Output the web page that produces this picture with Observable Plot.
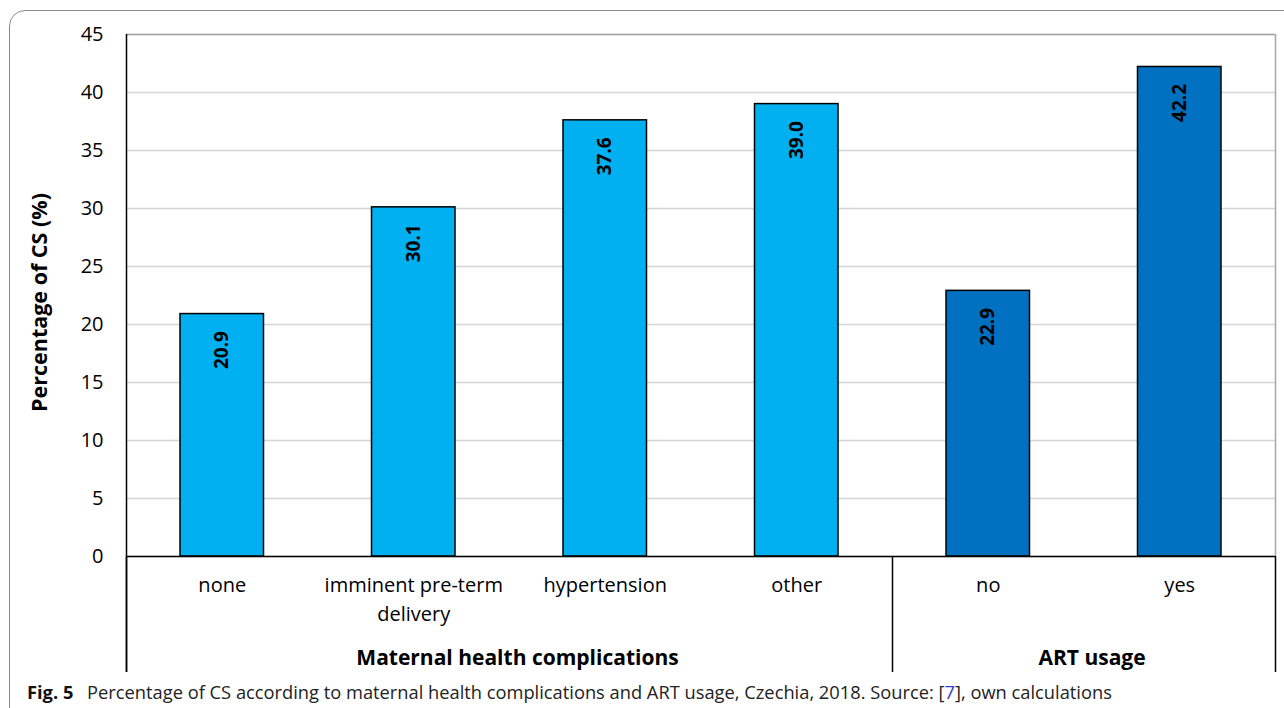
<!DOCTYPE html>
<html>
<head>
<meta charset="utf-8">
<script src="https://cdn.jsdelivr.net/npm/d3@7"></script>
<script src="https://cdn.jsdelivr.net/npm/@observablehq/plot@0.6"></script>
<style>
  html, body { margin: 0; padding: 0; background: #fff; overflow: hidden; }
  #wrap { position: relative; width: 1284px; height: 708px; }
  #box { position: absolute; left: 9px; top: 10px; width: 1320px; height: 760px;
         border: 1.5px solid #8a8a8a; border-radius: 16px; box-sizing: border-box; }
  #chart { position: absolute; left: 0; top: 0; }
  #caption { position: absolute; left: 27px; top: 679px; font-family: "Open Sans", sans-serif;
             font-size: 18.3px; color: #222; white-space: nowrap; }
  #caption b { font-weight: 700; color: #111; margin-right: 9px; }
  #caption .ref { color: #3a3ad0; }
</style>
</head>
<body>
<div id="wrap">
  <div id="box"></div>
  <div id="chart"></div>
  <div id="caption"><b>Fig. 5</b> Percentage of CS according to maternal health complications and ART usage, Czechia, 2018. Source: [<span class="ref">7</span>], own calculations</div>
</div>
<script>
const categories = ["none", "imminent pre-term\ndelivery", "hypertension", "other", "no", "yes"];
const values = [20.9, 30.1, 37.6, 39.0, 22.9, 42.2];
const groups = ["Maternal health complications", "Maternal health complications", "Maternal health complications", "Maternal health complications", "ART usage", "ART usage"];
const groupNames = ["Maternal health complications", "ART usage"];
const yTicks = [0, 5, 10, 15, 20, 25, 30, 35, 40, 45];
const yLabel = "Percentage of CS (%)";

const palette = {"Maternal health complications": "#00B0F0", "ART usage": "#0070C0"};

const rows = categories.map((c, i) => ({i, category: c, value: values[i], group: groups[i]}));
const spans = groupNames.map(g => {
  const idx = rows.filter(r => r.group === g).map(r => r.i);
  return {group: g, start: d3.min(idx), end: d3.max(idx) + 1};
});
const boundaries = Array.from(new Set(spans.flatMap(s => [s.start, s.end])));
const yMax = d3.max(yTicks);
const below = -10;

const chart = Plot.plot({
  width: 1284,
  height: 680,
  marginLeft: 126,
  marginRight: 9,
  marginTop: 34,
  marginBottom: 124,
  style: {fontFamily: "'Open Sans', sans-serif", fontSize: "20px", color: "#000", background: "transparent"},
  x: {type: "linear", domain: [0, categories.length], axis: null},
  y: {domain: [0, yMax], nice: false, axis: null},
  marks: [
    Plot.gridY(yTicks, {stroke: "#d4d4d4", strokeOpacity: 1, strokeWidth: 1.5}),
    Plot.ruleY([yMax], {stroke: "#a6a6a6", strokeWidth: 1.5}),
    Plot.ruleX([categories.length], {y1: 0, y2: yMax, stroke: "#a6a6a6", strokeWidth: 1.5}),
    Plot.rectY(rows, {
      x1: d => d.i, x2: d => d.i + 1, y1: 0, y2: "value",
      insetLeft: 54, insetRight: 54,
      fill: d => palette[d.group], stroke: "#000", strokeWidth: 1.5
    }),
    Plot.ruleX([0], {y1: below, y2: yMax, stroke: "#000", strokeWidth: 1.5}),
    Plot.ruleX(boundaries, {y1: below, y2: 0, stroke: "#000", strokeWidth: 1.5}),
    Plot.ruleY([0], {stroke: "#000", strokeWidth: 1.5}),
    Plot.axisY(yTicks, {tickSize: 0, tickPadding: 23, fontSize: 20, label: null}),
    Plot.text([yLabel], {frameAnchor: "left", textAnchor: "middle", dx: -86, dy: 7, rotate: -90, fontWeight: "bold", fontSize: 21.5}),
    Plot.text(rows, {
      x: d => d.i + 0.5, y: "value", text: d => d.value.toFixed(1),
      rotate: -90, dy: 36, fontWeight: "bold", fontSize: 19
    }),
    Plot.text(rows, {
      x: d => d.i + 0.5, y: 0, text: "category",
      lineAnchor: "top", dy: 15, lineHeight: 1.45, fontSize: 20
    }),
    Plot.text(spans, {
      x: d => (d.start + d.end) / 2, y: below, text: "group",
      dy: -14, dx: 8, fontWeight: "bold", fontSize: 21
    })
  ]
});
document.getElementById("chart").appendChild(chart);
</script>
</body>
</html>
